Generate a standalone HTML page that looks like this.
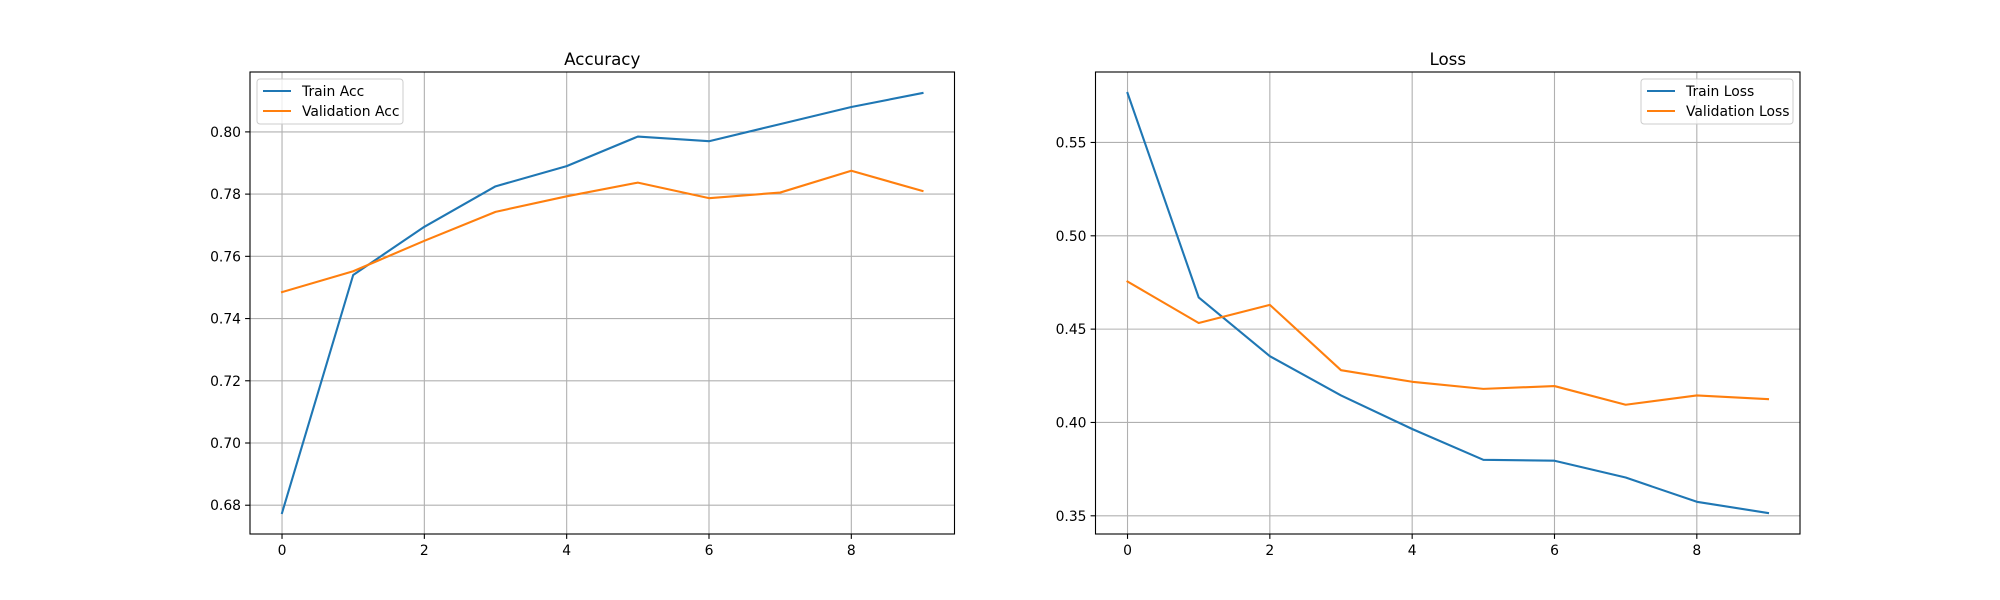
<!DOCTYPE html>
<html><head><meta charset="utf-8"><style>
html,body{margin:0;padding:0;background:#fff;}
svg{display:block;font-family:"DejaVu Sans","Liberation Sans",sans-serif;}
</style></head>
<body>
<svg id="fig" width="2000" height="600" viewBox="0 0 2000 600" xmlns="http://www.w3.org/2000/svg"></svg>
<script>
const epochs = [0,1,2,3,4,5,6,7,8,9];
const trainAcc = [0.6775,0.754,0.7695,0.7825,0.789,0.7985,0.797,0.8025,0.808,0.8125];
const valAcc = [0.7485,0.7552,0.765,0.7743,0.7793,0.7837,0.7787,0.7805,0.7875,0.781];
const trainLoss = [0.5765,0.467,0.4355,0.4145,0.3965,0.380,0.3795,0.3705,0.3575,0.3515];
const valLoss = [0.4755,0.4533,0.463,0.428,0.4218,0.418,0.4195,0.4095,0.4145,0.4125];
const xTicks = [0,2,4,6,8];
const accTicks = [0.68,0.70,0.72,0.74,0.76,0.78,0.80];
const lossTicks = [0.35,0.40,0.45,0.50,0.55];

const NS = "http://www.w3.org/2000/svg";
const svg = document.getElementById('fig');
function mk(tag, attrs, parent){
  const e = document.createElementNS(NS, tag);
  for (const k in attrs) e.setAttribute(k, attrs[k]);
  (parent||svg).appendChild(e);
  return e;
}
function panel(opts){
  const L = opts.left, T = 72, W = 704.5, H = 462;
  const g = mk('g', {});
  
  
  const xmin = Math.min(...epochs), xmax = Math.max(...epochs);
  const xp = (xmax - xmin) * 0.05;
  const X = v => L + (v - (xmin - xp)) / ((xmax + xp) - (xmin - xp)) * W;
  const all = opts.series.flatMap(s => s.data);
  const ymin = Math.min(...all), ymax = Math.max(...all);
  const yp = (ymax - ymin) * 0.05;
  const Y = v => T + H - (v - (ymin - yp)) / ((ymax + yp) - (ymin - yp)) * H;
  // grid
  xTicks.forEach(t => {
    const l = mk('line', {x1:X(t), x2:X(t), y1:T, y2:T+H, stroke:'#b0b0b0', 'stroke-width':1.1}, g);
    
    
    mk('line', {x1:X(t), x2:X(t), y1:T+H, y2:T+H+4.9, stroke:'#000', 'stroke-width':1.1}, g);
    const tx = mk('text', {x:X(t), y:T+H+21, 'text-anchor':'middle', 'font-size':13.9, fill:'#000'}, g);
    tx.textContent = String(t);
    
    
  });
  opts.yTicks.forEach(t => {
    const l = mk('line', {x1:L, x2:L+W, y1:Y(t), y2:Y(t), stroke:'#b0b0b0', 'stroke-width':1.1}, g);
    
    
    mk('line', {x1:L-4.9, x2:L, y1:Y(t), y2:Y(t), stroke:'#000', 'stroke-width':1.1}, g);
    const tx = mk('text', {x:L-9, y:Y(t)+5, 'text-anchor':'end', 'font-size':13.9, fill:'#000'}, g);
    tx.textContent = t.toFixed(2);
    
    
  });
  // series
  opts.series.forEach(s => {
    const pts = epochs.map((e,i) => X(e).toFixed(2)+','+Y(s.data[i]).toFixed(2)).join(' ');
    const pl = mk('polyline', {points:pts, fill:'none', stroke:s.color, 'stroke-width':2.1, 'stroke-linejoin':'round', 'stroke-linecap':'square'}, g);
    
    
  });
  const fr = mk('rect', {x:L, y:T, width:W, height:H, fill:'none', stroke:'#000', 'stroke-width':1.1}, g);
  
  
  const ti = mk('text', {x:L+W/2, y:T-7, 'text-anchor':'middle', 'font-size':16.7, fill:'#000'}, g);
  ti.textContent = opts.title;
  
  
  // legend
  const lw = opts.legendW, lx = opts.legendRight ? L + W - 7 - lw : L + 7, ly = T + 7;
  const lg = mk('g', {}, g);
  
  
  mk('rect', {x:lx, y:ly, width:lw, height:45, rx:3, fill:'#fff', 'fill-opacity':0.8, stroke:'#cccccc', 'stroke-width':1}, lg);
  opts.series.forEach((s,i) => {
    const yy = ly + 12 + i*20;
    const e = mk('g', {}, lg);
    
    
    mk('line', {x1:lx+6, x2:lx+34, y1:yy, y2:yy, stroke:s.color, 'stroke-width':2.1}, e);
    const t = mk('text', {x:lx+45, y:yy+5, 'font-size':13.9, fill:'#000'}, e);
    t.textContent = s.label;
  });
}
panel({name:'accuracy-chart', left:250, title:'Accuracy', yTicks:accTicks, legendRight:false, legendW:146,
  series:[{id:'train-acc-line', label:'Train Acc', data:trainAcc, color:'#1f77b4'},
          {id:'validation-acc-line', label:'Validation Acc', data:valAcc, color:'#ff7f0e'}]});
panel({name:'loss-chart', left:1095.5, title:'Loss', yTicks:lossTicks, legendRight:true, legendW:152,
  series:[{id:'train-loss-line', label:'Train Loss', data:trainLoss, color:'#1f77b4'},
          {id:'validation-loss-line', label:'Validation Loss', data:valLoss, color:'#ff7f0e'}]});
</script>
</body></html>
